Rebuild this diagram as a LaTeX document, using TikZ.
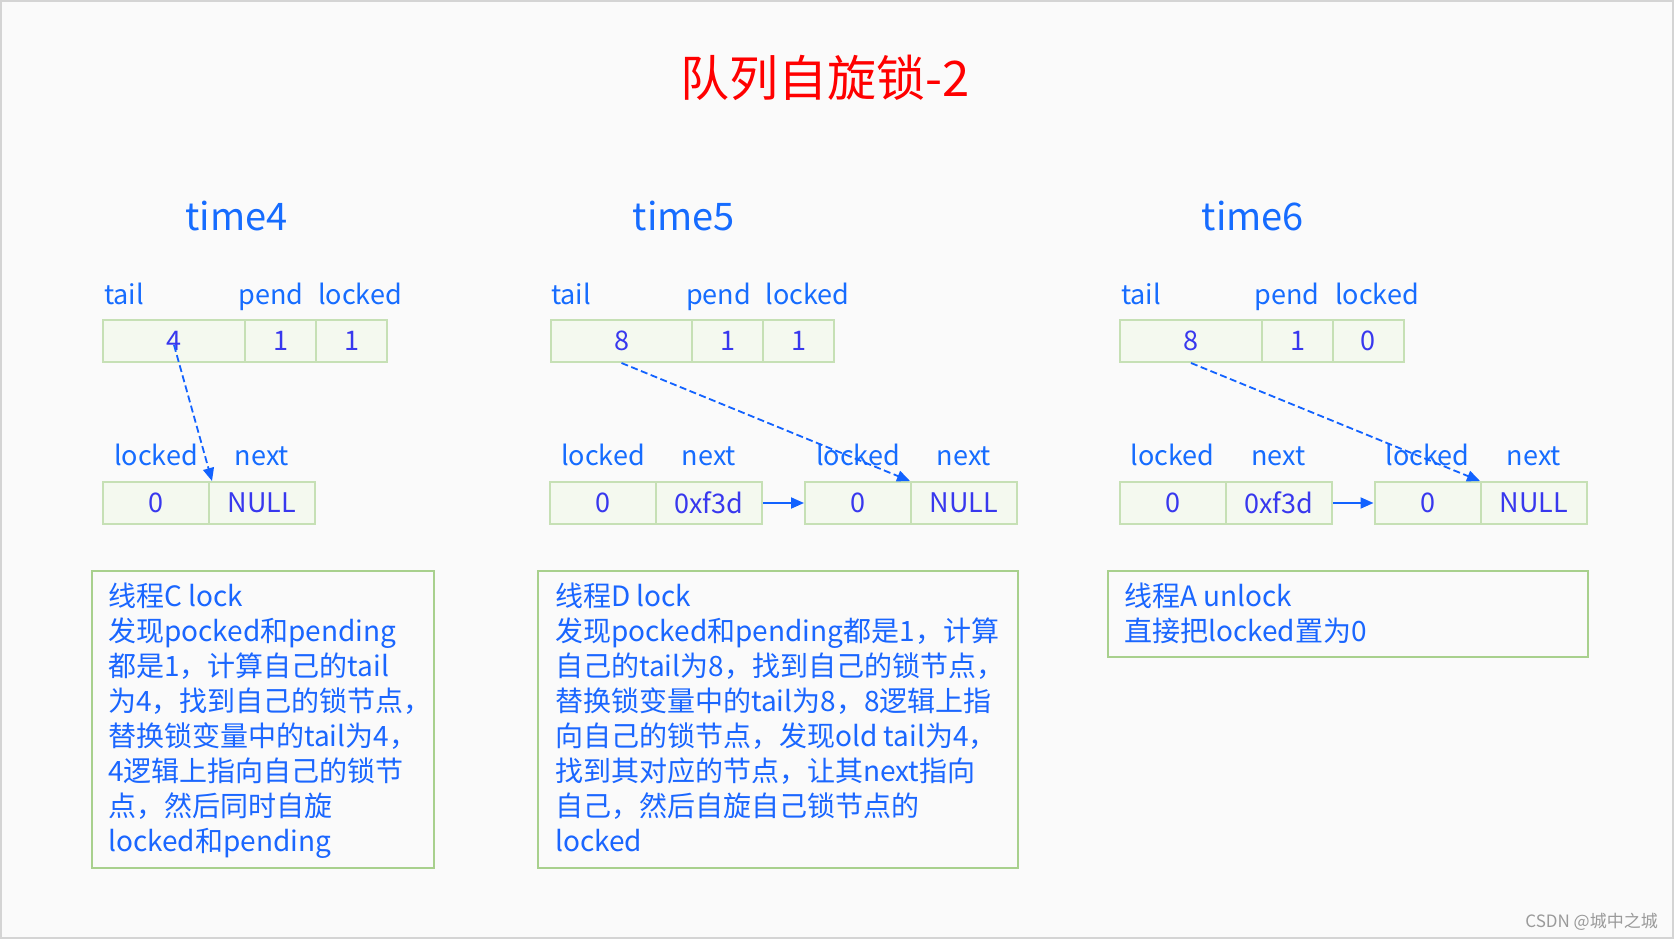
\documentclass[tikz,border=0pt]{standalone}
\usepackage{fontspec}
\setmainfont{Noto Sans CJK SC}
\usetikzlibrary{arrows.meta,calc}
\definecolor{bgcol}{HTML}{FAFAFA}
\definecolor{framecol}{HTML}{D4D4D4}
\definecolor{cellfill}{HTML}{F4F9EF}
\definecolor{cellline}{HTML}{C6E0B5}
\definecolor{boxline}{HTML}{A8D08D}
\definecolor{labcol}{HTML}{166CFF}
\definecolor{valcol}{HTML}{3838EE}
\definecolor{txtcol}{HTML}{1A66FF}
\definecolor{arrcol}{HTML}{1262FF}
\definecolor{wmcol}{HTML}{9A9A9A}
\begin{document}
\begin{tikzpicture}[x=1pt,y=-1pt,
  cell/.style={draw=cellline, fill=cellfill, line width=2pt, minimum height=42pt, inner sep=0pt, text=valcol, font=\fontsize{27}{27}\selectfont},
  lab/.style={text=labcol, inner sep=0pt, anchor=base, font=\fontsize{27}{27}\selectfont},
  timelab/.style={text=labcol, inner sep=0pt, font=\fontsize{38}{38}\selectfont},
  tbox/.style={draw=boxline, line width=2pt, inner sep=0pt, anchor=north west},
  btext/.style={text=txtcol, inner sep=0pt, anchor=north west, align=left, font=\fontsize{28}{35}\selectfont},
  dasharrow/.style={draw=arrcol, line width=1.8pt, dash pattern=on 7pt off 3.5pt, -{Triangle[length=13pt,width=11pt]}},
  solarrow/.style={draw=arrcol, line width=1.8pt, -{Triangle[length=13pt,width=11pt]}}
]
\useasboundingbox (0,0) rectangle (1674,939);
\fill[bgcol] (0,0) rectangle (1674,939);
\draw[framecol, line width=2pt] (1,1) rectangle (1673,938);

% title
\node[text=red, inner sep=0pt, font=\fontsize{49}{49}\selectfont] (title) at (825,78) {队列自旋锁-2};

% ---------- time4 ----------
\node[timelab] (t4) at (236.5,216) {time4};
\node[lab] (t4ltail) at (124,304) {tail};
\node[lab] (t4lpend) at (271,304) {pend};
\node[lab] (t4llock) at (360,304) {locked};
\node[cell, minimum width=142pt] (t4tail) at (174,341) {4};
\node[cell, minimum width=71pt] (t4pend) at (280.5,341) {1};
\node[cell, minimum width=71pt] (t4lock) at (351.5,341) {1};
\node[lab] (t4la) at (156,465) {locked};
\node[lab] (t4lb) at (262,465) {next};
\node[cell, minimum width=106pt] (t4alock) at (156,503) {0};
\node[cell, minimum width=106pt] (t4anext) at (262,503) {NULL};
\draw[dasharrow] ($(t4tail.center)+(0,4)$) -- ($(t4anext.north west)+(4,0)$);

% ---------- time5 ----------
\node[timelab] (t5) at (684,216) {time5};
\node[lab] (t5ltail) at (571,304) {tail};
\node[lab] (t5lpend) at (718.5,304) {pend};
\node[lab] (t5llock) at (807.5,304) {locked};
\node[cell, minimum width=141pt] (t5tail) at (621.5,341) {8};
\node[cell, minimum width=71pt] (t5pend) at (727.5,341) {1};
\node[cell, minimum width=71pt] (t5lock) at (798.5,341) {1};
\node[lab] (t5la) at (603,465) {locked};
\node[lab] (t5lb) at (709,465) {next};
\node[lab] (t5lc) at (858,465) {locked};
\node[lab] (t5ld) at (964,465) {next};
\node[cell, minimum width=106pt] (t5alock) at (603,503) {0};
\node[cell, minimum width=106pt] (t5anext) at (709,503) {0xf3d};
\node[cell, minimum width=106pt] (t5block) at (858,503) {0};
\node[cell, minimum width=106pt] (t5bnext) at (964,503) {NULL};
\draw[solarrow] (t5anext.east) -- (t5block.west);
\draw[dasharrow] (t5tail.south) -- (t5bnext.north west);

% ---------- time6 ----------
\node[timelab] (t6) at (1253,216) {time6};
\node[lab] (t6ltail) at (1141,304) {tail};
\node[lab] (t6lpend) at (1287,304) {pend};
\node[lab] (t6llock) at (1377,304) {locked};
\node[cell, minimum width=142pt] (t6tail) at (1191,341) {8};
\node[cell, minimum width=71pt] (t6pend) at (1297.5,341) {1};
\node[cell, minimum width=71pt] (t6lock) at (1368,341) {0};
\node[lab] (t6la) at (1172.5,465) {locked};
\node[lab] (t6lb) at (1278.5,465) {next};
\node[lab] (t6lc) at (1427.5,465) {locked};
\node[lab] (t6ld) at (1534,465) {next};
\node[cell, minimum width=106pt] (t6alock) at (1172.5,503) {0};
\node[cell, minimum width=106pt] (t6anext) at (1279,503) {0xf3d};
\node[cell, minimum width=106pt] (t6block) at (1427.5,503) {0};
\node[cell, minimum width=106pt] (t6bnext) at (1534,503) {NULL};
\draw[solarrow] (t6anext.east) -- (t6block.west);
\draw[dasharrow] (t6tail.south) -- (t6bnext.north west);

% ---------- text boxes ----------
\node[tbox, minimum width=342pt, minimum height=297pt] (boxC) at (91,570) {};
\node[btext] (txtC) at (108,583) {线程C lock\\发现pocked和pending\\都是1，计算自己的tail\\为4，找到自己的锁节点，\\替换锁变量中的tail为4，\\4逻辑上指向自己的锁节\\点，然后同时自旋\\locked和pending};

\node[tbox, minimum width=480pt, minimum height=297pt] (boxD) at (537,570) {};
\node[btext] (txtD) at (555,583) {线程D lock\\发现pocked和pending都是1，计算\\自己的tail为8，找到自己的锁节点，\\替换锁变量中的tail为8，8逻辑上指\\向自己的锁节点，发现old tail为4，\\找到其对应的节点，让其next指向\\自己，然后自旋自己锁节点的\\locked};

\node[tbox, minimum width=480pt, minimum height=86pt] (boxA) at (1107,570) {};
\node[btext] (txtA) at (1124,583) {线程A unlock\\直接把locked置为0};

% watermark
\node[text=wmcol, inner sep=0pt, anchor=base east, font=\fontsize{17}{17}\selectfont] (wm) at (1658,927) {CSDN @城中之城};
\end{tikzpicture}
\end{document}
